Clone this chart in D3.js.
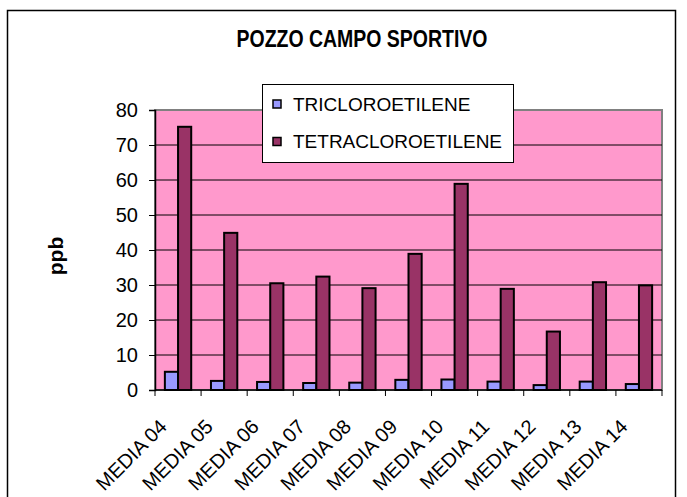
<!DOCTYPE html>
<html>
<head>
<meta charset="utf-8">
<script src="https://cdn.jsdelivr.net/npm/d3@7"></script>
<style>
  body { margin: 0; background: #fff; }
  text { font-family: Arial, "Liberation Sans", sans-serif; }
</style>
</head>
<body>
<div id="chart"></div>
<script>
// data
var categories = ["MEDIA 04", "MEDIA 05", "MEDIA 06", "MEDIA 07", "MEDIA 08", "MEDIA 09",
                  "MEDIA 10", "MEDIA 11", "MEDIA 12", "MEDIA 13", "MEDIA 14"];
var tricloroetilene = [5.2, 2.6, 2.3, 2.0, 2.1, 2.9, 3.0, 2.4, 1.4, 2.4, 1.7];
var tetracloroetilene = [75.2, 44.9, 30.5, 32.4, 29.1, 38.9, 58.9, 28.9, 16.7, 30.8, 29.9];
var seriesNames = ["TRICLOROETILENE", "TETRACLOROETILENE"];
var seriesColors = ["#9999ff", "#993366"];
var yTicks = [0, 10, 20, 30, 40, 50, 60, 70, 80];

!(function (d3) {
  var W = 687, H = 497;
  var margin = {top: 110, left: 155},
      width = 507,
      height = 280;

  var svg = d3.select("#chart").append("svg")
      .attr("width", W)
      .attr("height", H);

  // outer chart frame
  svg.append("rect")
      .attr("x", 7.5).attr("y", 10.5)
      .attr("width", 668).attr("height", 520)
      .attr("fill", "#fff")
      .attr("stroke", "#000")
      .attr("stroke-width", 1.5);

  svg.append("text")
      .attr("x", 362).attr("y", 47)
      .attr("text-anchor", "middle")
      .attr("font-weight", "bold")
      .attr("font-size", 24)
      .attr("textLength", 251)
      .attr("lengthAdjust", "spacingAndGlyphs")
      .text("POZZO CAMPO SPORTIVO");

  var g = svg.append("g")
      .attr("transform", "translate(" + margin.left + "," + margin.top + ")");

  var x = d3.scaleBand()
      .domain(categories)
      .range([0, width]);
  // two bars per category, gap 150% of a bar
  var x1 = d3.scaleBand()
      .domain([0, 1])
      .range([0, x.bandwidth()])
      .paddingOuter(0.75)
      .paddingInner(0);
  var y = d3.scaleLinear()
      .domain([0, 80])
      .range([height, 0]);

  // plot area
  g.append("rect")
      .attr("width", width).attr("height", height)
      .attr("fill", "#ff99cc")
      .attr("stroke", "#808080")
      .attr("stroke-width", 2);

  // gridlines
  g.append("g")
      .selectAll("line")
      .data(yTicks.filter(function(d) { return d > 0 && d < 80; }))
    .enter().append("line")
      .attr("x1", 0).attr("x2", width)
      .attr("y1", function(d) { return y(d); })
      .attr("y2", function(d) { return y(d); })
      .attr("stroke", "#000")
      .attr("stroke-width", 1);

  var rows = categories.map(function(c, i) {
    return {cat: c, values: [tricloroetilene[i], tetracloroetilene[i]]};
  });

  var groups = g.selectAll(".grp")
      .data(rows)
    .enter().append("g")
      .attr("class", "grp")
      .attr("transform", function(d) { return "translate(" + x(d.cat) + ",0)"; });

  groups.selectAll("rect")
      .data(function(d) { return d.values; })
    .enter().append("rect")
      .attr("x", function(d, i) { return x1(i); })
      .attr("width", x1.bandwidth())
      .attr("y", function(d) { return y(d); })
      .attr("height", function(d) { return height - y(d); })
      .attr("fill", function(d, i) { return seriesColors[i]; })
      .attr("stroke", "#000")
      .attr("stroke-width", 2);

  // y axis
  var yAxis = g.append("g")
      .call(d3.axisLeft(y).tickValues(yTicks).tickSize(6).tickPadding(11));
  yAxis.select(".domain").attr("stroke", "#000").attr("stroke-width", 1.5);
  yAxis.selectAll("text").attr("font-size", 20).attr("fill", "#000")
      .attr("font-family", "Arial, 'Liberation Sans', sans-serif");

  // x axis: ticks between categories
  var xAxis = g.append("g")
      .attr("transform", "translate(0," + height + ")");
  xAxis.append("line")
      .attr("x1", 0).attr("x2", width)
      .attr("stroke", "#000").attr("stroke-width", 1.5);
  xAxis.selectAll(".tk")
      .data(categories.concat([null]))
    .enter().append("line")
      .attr("class", "tk")
      .attr("x1", function(d, i) { return i * x.step(); })
      .attr("x2", function(d, i) { return i * x.step(); })
      .attr("y1", 0).attr("y2", 6)
      .attr("stroke", "#000");
  xAxis.selectAll(".lbl")
      .data(categories)
    .enter().append("text")
      .attr("class", "lbl")
      .attr("text-anchor", "end")
      .attr("font-size", 20)
      .attr("transform", function(d) {
        return "translate(" + (x(d) + x.bandwidth() / 2 - 10) + ",38) rotate(-45)";
      })
      .text(function(d) { return d; });

  // y label
  svg.append("text")
      .attr("transform", "translate(63,256) rotate(-90)")
      .attr("text-anchor", "middle")
      .attr("font-weight", "bold")
      .attr("font-size", 21)
      .text("ppb");

  // legend
  var legend = svg.append("g").attr("transform", "translate(262,84)");
  legend.append("rect")
      .attr("x", 0.5).attr("y", 0.5)
      .attr("width", 251).attr("height", 78)
      .attr("fill", "#fff")
      .attr("stroke", "#000");
  var items = legend.selectAll(".item")
      .data(seriesNames)
    .enter().append("g")
      .attr("class", "item")
      .attr("transform", function(d, i) { return "translate(0," + (i * 37.5) + ")"; });
  items.append("rect")
      .attr("x", 11).attr("y", 16)
      .attr("width", 8).attr("height", 8)
      .attr("fill", function(d, i) { return seriesColors[i]; })
      .attr("stroke", "#000")
      .attr("stroke-width", 1.5);
  items.append("text")
      .attr("x", 31).attr("y", 26.5)
      .attr("font-size", 19)
      .text(function(d) { return d; });
})(d3);
</script>
</body>
</html>
